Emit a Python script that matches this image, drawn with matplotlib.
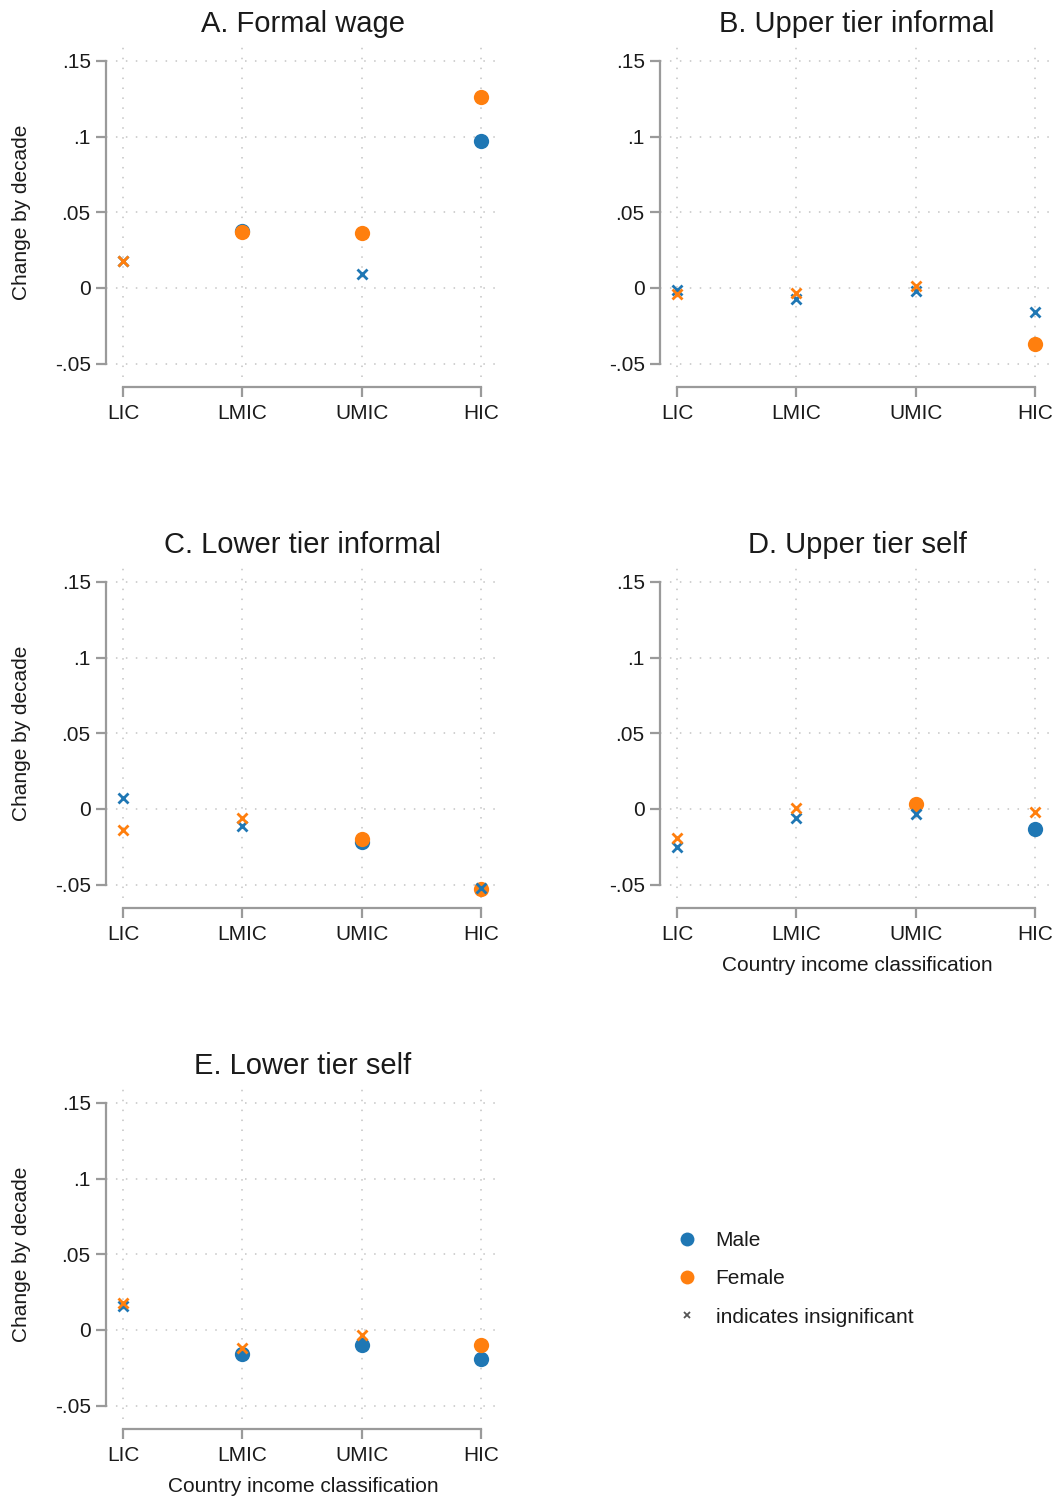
import matplotlib
matplotlib.use("Agg")
import matplotlib.pyplot as plt
from matplotlib.lines import Line2D
import numpy as np

plt.rcParams['font.family'] = ['Liberation Sans', 'DejaVu Sans']

# ---------------- data ----------------
categories = ["LIC", "LMIC", "UMIC", "HIC"]
panel_titles = ["A. Formal wage", "B. Upper tier informal", "C. Lower tier informal",
                "D. Upper tier self", "E. Lower tier self"]

male_values = [
    [0.018, 0.0375, 0.009, 0.097],
    [-0.001, -0.007, -0.002, -0.016],
    [0.0075, -0.011, -0.022, -0.052],
    [-0.025, -0.006, -0.003, -0.013],
    [0.016, -0.016, -0.010, -0.019],
]
female_values = [
    [0.018, 0.0368, 0.036, 0.126],
    [-0.004, -0.003, 0.001, -0.037],
    [-0.014, -0.006, -0.020, -0.053],
    [-0.019, 0.0005, 0.003, -0.002],
    [0.018, -0.012, -0.003, -0.010],
]
# True = significant (filled circle), False = insignificant (x)
male_sig = [
    [False, True, False, True],
    [False, False, False, False],
    [False, False, True, False],
    [False, False, False, True],
    [False, True, True, True],
]
female_sig = [
    [False, True, True, True],
    [False, False, False, True],
    [False, False, True, True],
    [False, False, True, False],
    [False, False, False, True],
]
yticks = [-0.05, 0, 0.05, 0.1, 0.15]
ytick_labels = ["-.05", "0", ".05", ".1", ".15"]

# ---------------- style ----------------
BLUE = "#1f77b4"
ORANGE = "#ff7f0e"
SPINE = "#9a9a9a"
GRID = "#c4c4c4"
TXT = "#1a1a1a"

W, H = 1060, 1499
fig = plt.figure(figsize=(W / 100, H / 100), dpi=100)

ax_h = 330
ax_w = 394
lefts = [106, 660]
tops = [47.3, 568.3, 1089.3]

positions = [(lefts[0], tops[0]), (lefts[1], tops[0]),
             (lefts[0], tops[1]), (lefts[1], tops[1]),
             (lefts[0], tops[2])]

x = np.arange(1, len(categories) + 1)

for i, (lpx, tpx) in enumerate(positions):
    ax = fig.add_axes([lpx / W, 1 - (tpx + ax_h) / H, ax_w / W, ax_h / H])
    ax.set_xlim(0.8575, 4.159)
    ax.set_ylim(-0.059, 0.159)

    mv = np.array(male_values[i]); fv = np.array(female_values[i])
    ms = np.array(male_sig[i]); fs = np.array(female_sig[i])

    ax.plot(x[ms], mv[ms], 'o', color=BLUE, markersize=11, mew=0, zorder=3)
    ax.plot(x[fs], fv[fs], 'o', color=ORANGE, markersize=11, mew=0, zorder=4)
    ax.plot(x[~ms], mv[~ms], 'x', color=BLUE, markersize=6.5, mew=2, zorder=5)
    ax.plot(x[~fs], fv[~fs], 'x', color=ORANGE, markersize=6.5, mew=2, zorder=6)

    ax.set_xticks(x)
    ax.set_xticklabels(categories)
    ax.set_yticks(yticks)
    ax.set_yticklabels(ytick_labels)
    ax.grid(True, color=GRID, linestyle=(0, (1, 5.5)), linewidth=1.1)
    ax.set_axisbelow(True)

    for s in ['top', 'right']:
        ax.spines[s].set_visible(False)
    ax.spines['left'].set_color(SPINE)
    ax.spines['bottom'].set_color(SPINE)
    ax.spines['left'].set_linewidth(1.6)
    ax.spines['bottom'].set_linewidth(1.6)
    ax.spines['bottom'].set_position(('outward', 7.2))
    ax.spines['left'].set_bounds(-0.05, 0.15)
    ax.spines['bottom'].set_bounds(1, 4)

    ax.tick_params(axis='both', direction='out', length=7, width=1.6, color=SPINE,
                   labelsize=15, labelcolor=TXT)
    ax.tick_params(axis='y', pad=4)
    ax.tick_params(axis='x', pad=5)

    ax.set_title(panel_titles[i], fontsize=21, color=TXT, y=1.072, va='center', pad=0)

    if lpx == lefts[0]:
        ax.set_ylabel("Change by decade", fontsize=15, color=TXT)
        ax.yaxis.set_label_coords(-0.19, 0.5)
    if i in (3, 4):
        ax.set_xlabel("Country income classification", fontsize=15, color=TXT)
        ax.xaxis.set_label_coords(0.5, -0.175)

handles = [
    Line2D([], [], marker='o', linestyle='none', color=BLUE, markersize=10, mew=0),
    Line2D([], [], marker='o', linestyle='none', color=ORANGE, markersize=10, mew=0),
    Line2D([], [], marker='x', linestyle='none', color='#555555', markersize=5, mew=1.3),
]
labels = ["Male", "Female", "indicates insignificant"]
leg = fig.legend(handles, labels, loc='center left',
                 bbox_to_anchor=(677 / W, 1 - 1279 / H), frameon=False,
                 fontsize=15, labelspacing=0.92, handlelength=1.0,
                 handletextpad=0.85, borderpad=0, borderaxespad=0)
for t in leg.get_texts():
    t.set_color(TXT)

fig.savefig("out.png", dpi=100)
